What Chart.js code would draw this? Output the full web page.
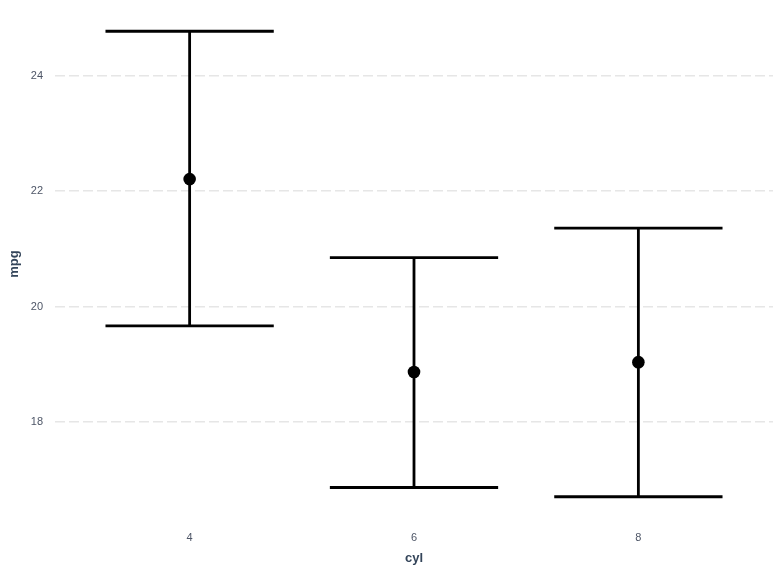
<!DOCTYPE html>
<html>
<head>
<meta charset="utf-8">
<script src="https://cdn.jsdelivr.net/npm/chart.js@4/dist/chart.umd.min.js"></script>
<style>
  html, body { margin: 0; padding: 0; background: #fff; }
  #wrap { width: 780px; height: 572px; position: relative; }
</style>
</head>
<body>
<div id="wrap"><canvas id="chart"></canvas></div>
<script>
// cylinders and mpg summary per group
const cyl = [4, 6, 8];
const mpgMean = [22.21, 18.87, 19.04];
const mpgLow = [19.67, 16.87, 16.71];
const mpgHigh = [24.77, 20.85, 21.36];
const yTicks = [18, 20, 22, 24];

// cap half-width in x units (category spacing is 2)
const CAP = 0.75;

const tickColor = "#4d5566";
const titleColor = "#34455a";

// y range: data extent plus 5% either side
const yMinData = Math.min(...mpgLow);
const yMaxData = Math.max(...mpgHigh);
const ySpan = yMaxData - yMinData;

const errorBars = {
  id: "errorBars",
  beforeDatasetsDraw(chart) {
    const { ctx, scales: { x, y } } = chart;
    ctx.save();
    ctx.strokeStyle = "#000";
    ctx.lineWidth = 2.8;
    ctx.lineCap = "butt";
    cyl.forEach((c, i) => {
      const cx = x.getPixelForValue(c);
      const x0 = x.getPixelForValue(c - CAP);
      const x1 = x.getPixelForValue(c + CAP);
      const yl = y.getPixelForValue(mpgLow[i]);
      const yh = y.getPixelForValue(mpgHigh[i]);
      ctx.beginPath();
      ctx.moveTo(cx, yl); ctx.lineTo(cx, yh);
      ctx.moveTo(x0, yl); ctx.lineTo(x1, yl);
      ctx.moveTo(x0, yh); ctx.lineTo(x1, yh);
      ctx.stroke();
    });
    ctx.restore();
  }
};

new Chart(document.getElementById("chart"), {
  type: "scatter",
  data: {
    datasets: [{
      label: "mpg",
      data: cyl.map((c, i) => ({ x: c, y: mpgMean[i] })),
      pointRadius: 6.3,
      pointHoverRadius: 6.3,
      pointBackgroundColor: "#000",
      pointBorderColor: "#000",
      pointBorderWidth: 0
    }]
  },
  options: {
    responsive: true,
    maintainAspectRatio: false,
    animation: false,
    layout: { padding: { left: 0, right: 7, top: 8, bottom: 0 } },
    plugins: {
      legend: { display: false },
      tooltip: { enabled: false }
    },
    scales: {
      x: {
        type: "linear",
        min: cyl[0] - 1.2,
        max: cyl[cyl.length - 1] + 1.2,
        afterBuildTicks: s => { s.ticks = cyl.map(v => ({ value: v })); },
        afterFit: s => { s.height = 52; s.paddingLeft = 0; s.paddingRight = 0; },
        grid: { display: false, drawTicks: false },
        border: { display: false },
        ticks: {
          padding: 11,
          color: tickColor,
          font: { family: "Liberation Sans", size: 11 }
        },
        title: {
          display: true,
          text: "cyl",
          color: titleColor,
          font: { family: "Liberation Sans", size: 13, weight: "bold" },
          padding: { top: 4, bottom: 6 }
        }
      },
      y: {
        min: yMinData - ySpan * 0.05,
        max: yMaxData + ySpan * 0.05,
        afterBuildTicks: s => { s.ticks = yTicks.map(v => ({ value: v })); },
        afterFit: s => { s.width = 55; s.paddingTop = 0; s.paddingBottom = 0; },
        grid: {
          color: "#e6e6e6",
          lineWidth: 1.5,
          drawTicks: false
        },
        border: { display: false, dash: [10, 4] },
        ticks: {
          padding: 12,
          color: tickColor,
          font: { family: "Liberation Sans", size: 11 }
        },
        title: {
          display: true,
          text: "mpg",
          color: titleColor,
          font: { family: "Liberation Sans", size: 13, weight: "bold" },
          padding: { top: 7, bottom: 4 }
        }
      }
    }
  },
  plugins: [errorBars]
});
</script>
</body>
</html>
